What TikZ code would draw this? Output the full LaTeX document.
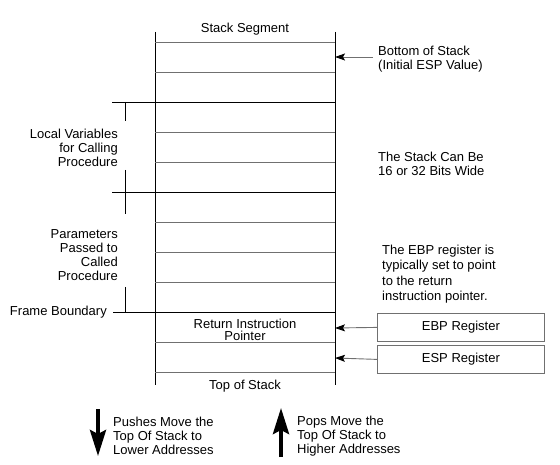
\documentclass[tikz,border=0pt]{standalone}
\usepackage{fontspec}
\setmainfont{Liberation Sans}
\usetikzlibrary{arrows.meta}
\definecolor{lgray}{HTML}{707070}
\tikzset{
  thin line/.style={draw=lgray, line width=0.8pt},
  thick line/.style={draw=black, line width=0.9pt},
  lbl/.style={font=\fontsize{13}{14}\selectfont, inner sep=0pt, align=left},
  ptr/.style={draw=lgray, line width=0.9pt, -{Stealth[length=10pt,width=7pt,inset=2pt,black]}},
  regbox/.style={draw=lgray, line width=0.8pt, minimum width=167pt, minimum height=28pt, inner sep=0pt, font=\fontsize{13}{14}\selectfont},
  bigarrow/.style={draw=black, line width=4pt, -{Stealth[length=26pt,width=16pt,inset=4pt]}}
}
\begin{document}
\begin{tikzpicture}[x=1pt,y=-1pt]
\useasboundingbox (0,0) rectangle (560,465);
% columns
\coordinate (LT) at (155,32);
\coordinate (LB) at (155,385);
\coordinate (RT) at (335,32);
\coordinate (RB) at (335,385);
\draw[thick line] (LT) -- (LB);
\draw[thick line] (RT) -- (RB);
% thin rows
\foreach \y in {42,72,132,162,222,252,282,342,372}
  \draw[thin line] (155,\y) -- (335,\y);
% thick rows
\foreach \y in {102,192}
  \draw[thick line] (112,\y) -- (335,\y);
\draw[thick line] (113,312) -- (335,312);
% brace lines
\draw[thick line] (125,102) -- (125,121);
\draw[thick line] (125,170) -- (125,214);
\draw[thick line] (125,287) -- (125,312);
% texts
\node[lbl] (seg) at (245,29) {Stack Segment};
\node[lbl, anchor=west] (bos) at (378,59) {Bottom of Stack\\(Initial ESP Value)};
\coordinate (bosR) at (335,57);
\draw[ptr] (bos.west |- bosR) ++(-5,0) -- (bosR);
\node[lbl, anchor=west] (wide) at (378,164) {The Stack Can Be\\16 or 32 Bits Wide};
\node[lbl, anchor=east, align=right] (loc) at (118,148) {Local Variables\\for Calling\\Procedure};
\node[lbl, anchor=east, align=right] (par) at (118,255) {Parameters\\Passed to\\Called\\Procedure};
\node[lbl, anchor=east] (fb) at (107,312) {Frame Boundary};
\node[lbl, align=center, font=\fontsize{13}{11.5}\selectfont] (rip) at (245,330) {Return Instruction\\Pointer};
\node[lbl] (tos) at (245,386) {Top of Stack};
\node[lbl, anchor=west, font=\fontsize{13}{15.5}\selectfont] (ebpnote) at (382,274) {The EBP register is\\typically set to point\\to the return\\instruction pointer.};
\node[regbox, anchor=north west] (ebp) at (377,313) {EBP Register};
\node[regbox, anchor=north west] (esp) at (377,345) {ESP Register};
\coordinate (ebpT) at (335,328);
\coordinate (espT) at (335,358);
\draw[ptr] (ebp.west) -- (ebpT);
\draw[ptr] (esp.west) -- (espT);
% bottom arrows
\coordinate (d1) at (98,409);
\coordinate (d2) at (98,456);
\draw[bigarrow] (d1) -- (d2);
\node[lbl, anchor=west] (push) at (113,436) {Pushes Move the\\Top Of Stack to\\Lower Addresses};
\coordinate (u1) at (281,457);
\coordinate (u2) at (281,408);
\draw[bigarrow] (u1) -- (u2);
\node[lbl, anchor=west] (pop) at (297,436) {Pops Move the\\Top Of Stack to\\Higher Addresses};
\end{tikzpicture}
\end{document}
